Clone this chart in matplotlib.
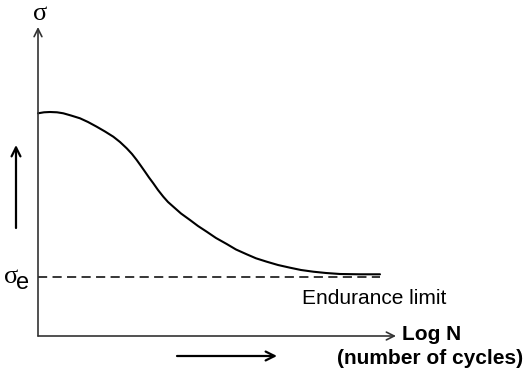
import matplotlib
matplotlib.use("Agg")
import matplotlib.pyplot as plt

# S-N curve, read in screen units: log N to the right, stress upward
log_n = [0, 6, 12, 19, 25.3, 33, 42, 50, 58.7, 67, 75.3, 82, 88.7, 94, 98.7,
         103, 107, 111, 115.3, 120, 125.3, 130, 135.3, 143, 152, 160, 168.7,
         178, 188.7, 198, 208.7, 218, 228.7, 240, 252, 263, 275.3, 288, 302,
         322, 342]
stress = [222.7, 223.7, 224, 223.7, 222.7, 220.5, 217.7, 214, 209.3, 204.5,
          199.3, 194, 187.7, 182, 176, 170, 164.3, 158.5, 152.7, 146, 139.3,
          134, 129.3, 122.5, 116, 110, 104.3, 98, 92, 86.5, 81.7, 77.7, 74.3,
          71, 68.3, 66, 64.3, 63, 62, 61.7, 61.7]
endurance = 59.3
x_arrow_end = 358
y_arrow_end = 309

INK = "#000000"
AXIS = "#333333"

fig = plt.figure(figsize=(5.27, 3.74), dpi=100)
ax = fig.add_axes([0, 0, 1, 1])
ax.set_xlim(-38, 489)
ax.set_ylim(-38, 336)
ax.axis("off")

arrow = dict(arrowstyle="->", lw=1.2, color=AXIS, shrinkA=0, shrinkB=0,
             mutation_scale=14)
ax.annotate("", xy=(0, y_arrow_end), xytext=(0, 0), arrowprops=arrow)
ax.annotate("", xy=(x_arrow_end, 0), xytext=(0, 0), arrowprops=arrow)

# endurance limit level
ax.plot([0, log_n[-1]], [endurance, endurance], color=INK, lw=1.1,
        ls=(0, (6, 3.5)))
ax.plot(log_n, stress, color=INK, lw=1.5, solid_capstyle="round",
        solid_joinstyle="round")

# direction hints
hint = dict(arrowstyle="->", lw=1.6, color=INK, shrinkA=0, shrinkB=0,
            mutation_scale=16)
ax.annotate("", xy=(-22, 191), xytext=(-22, 108), arrowprops=hint)
ax.annotate("", xy=(239, -20), xytext=(139, -20), arrowprops=hint)

serif = "Liberation Serif"
sans = "Liberation Sans"
ax.text(2, 322, "σ", family=serif, fontsize=19, ha="center", va="center")
ax.text(-27, 59, "σ", family=serif, fontsize=19, ha="center", va="center")
ax.text(-15, 53, "e", family=sans, fontsize=17, ha="center", va="center")
ax.text(264, 38, "Endurance limit", family=sans, fontsize=15,
        ha="left", va="center")
ax.text(364, 2, "Log N", family=sans, fontsize=15, fontweight="bold",
        ha="left", va="center")
ax.text(299, -22, "(number of cycles)", family=sans, fontsize=15,
        fontweight="bold", ha="left", va="center")

fig.savefig("out.png", dpi=100)
